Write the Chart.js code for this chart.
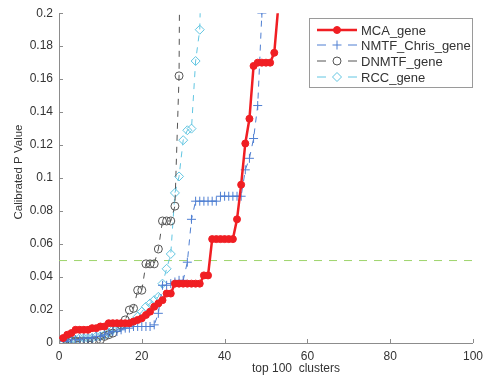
<!DOCTYPE html>
<html>
<head>
<meta charset="utf-8">
<script src="https://cdn.jsdelivr.net/npm/chart.js@4.4.1/dist/chart.umd.min.js"></script>
<style>
  html, body { margin: 0; padding: 0; background: #fff; }
  canvas { display: block; }
</style>
</head>
<body>
<canvas id="chart" width="489" height="386"></canvas>
<script>
// values, index i -> cluster rank i+1
const mcaGene = [
  0.003, 0.005, 0.006, 0.008, 0.008, 0.008, 0.008, 0.009, 0.009, 0.010,
  0.010, 0.012, 0.012, 0.012, 0.012, 0.012, 0.012, 0.013, 0.014, 0.015,
  0.017, 0.019, 0.022, 0.024, 0.026, 0.030, 0.030, 0.036, 0.036, 0.036,
  0.036, 0.036, 0.036, 0.036, 0.041, 0.041, 0.063, 0.063, 0.063, 0.063,
  0.063, 0.063, 0.075, 0.096, 0.121, 0.136, 0.168, 0.170, 0.170, 0.170,
  0.170, 0.176, 0.205
];
const nmtfChrisGene = [
  0.001, 0.001, 0.002, 0.002, 0.002, 0.003, 0.003, 0.003, 0.004, 0.004,
  0.005, 0.006, 0.007, 0.007, 0.008, 0.009, 0.009, 0.010, 0.010, 0.010,
  0.010, 0.010, 0.011, 0.018, 0.035, 0.035, 0.036, 0.037, 0.038, 0.038,
  0.049, 0.075, 0.086, 0.086, 0.086, 0.086, 0.086, 0.086, 0.089, 0.089,
  0.089, 0.089, 0.089, 0.089, 0.105, 0.112, 0.124, 0.144, 0.200
];
const dnmtfGene = [
  0.000, 0.000, 0.001, 0.001, 0.001, 0.001, 0.001, 0.001, 0.001, 0.002,
  0.004, 0.005, 0.006, 0.009, 0.011, 0.014, 0.020, 0.021, 0.032, 0.032,
  0.048, 0.048, 0.048, 0.057, 0.074, 0.074, 0.074, 0.083, 0.162, 0.600
];
const rccGene = [
  0.001, 0.001, 0.002, 0.002, 0.003, 0.003, 0.003, 0.003, 0.004, 0.004,
  0.005, 0.006, 0.008, 0.009, 0.010, 0.011, 0.012, 0.013, 0.016, 0.019,
  0.022, 0.024, 0.026, 0.028, 0.036, 0.045, 0.054, 0.091, 0.101, 0.123,
  0.129, 0.130, 0.171, 0.190, 0.300
];
const threshold = 0.05;
const xRange = [0, 100];
const yRange = [0, 0.2];

const RED = '#f01e23';
const BLUE = '#4f7fd2';
const GRAY = '#555555';
const CYAN = '#62c6e2';
const GREEN = '#9ed46c';
const FONT = '"Liberation Sans", Arial, sans-serif';

const toPoints = arr => arr.map((v, i) => ({ x: i + 1, y: v }));

const series = [
  { label: 'MCA_gene', values: mcaGene, color: RED, dash: [], width: 2.5, style: 'circle', radius: 3.5, fill: RED },
  { label: 'NMTF_Chris_gene', values: nmtfChrisGene, color: BLUE, dash: [6, 6], width: 1, style: 'cross', radius: 4.5, fill: 'rgba(0,0,0,0)' },
  { label: 'DNMTF_gene', values: dnmtfGene, color: GRAY, dash: [6, 6], width: 1, style: 'circle', radius: 4, fill: 'rgba(0,0,0,0)' },
  { label: 'RCC_gene', values: rccGene, color: CYAN, dash: [6, 6], width: 1, style: 'rectRot', radius: 4.5, fill: 'rgba(0,0,0,0)' }
];

const datasets = series.map((s, i) => ({
  label: s.label,
  data: toPoints(s.values),
  borderColor: s.color,
  borderWidth: s.width,
  borderDash: s.dash,
  pointStyle: s.style,
  pointRadius: s.radius,
  pointBorderColor: s.color,
  pointBackgroundColor: s.fill,
  pointBorderWidth: 1,
  tension: 0,
  order: i
}));

datasets.push({
  label: 'threshold',
  data: [{ x: xRange[0], y: threshold }, { x: xRange[1], y: threshold }],
  borderColor: GREEN,
  borderWidth: 1,
  borderDash: [8, 7],
  pointRadius: 0,
  order: 10
});

function drawMarker(ctx, style, x, y, r, color, fill) {
  ctx.save();
  ctx.setLineDash([]);
  ctx.strokeStyle = color;
  ctx.fillStyle = fill;
  ctx.lineWidth = 1;
  ctx.beginPath();
  if (style === 'circle') {
    ctx.arc(x, y, r, 0, Math.PI * 2);
    ctx.fill();
    ctx.stroke();
  } else if (style === 'cross') {
    ctx.moveTo(x - r, y); ctx.lineTo(x + r, y);
    ctx.moveTo(x, y - r); ctx.lineTo(x, y + r);
    ctx.stroke();
  } else {
    ctx.moveTo(x, y - r); ctx.lineTo(x + r, y); ctx.lineTo(x, y + r); ctx.lineTo(x - r, y);
    ctx.closePath();
    ctx.stroke();
  }
  ctx.restore();
}

const extras = {
  id: 'extras',
  beforeDraw: (chart) => {
    const { ctx, width, height } = chart;
    ctx.save();
    ctx.fillStyle = '#fff';
    ctx.fillRect(0, 0, width, height);
    ctx.restore();
  },
  afterDraw: (chart) => {
    const { ctx, chartArea, scales } = chart;
    ctx.save();

    // inward tick marks
    ctx.strokeStyle = '#8c8c8c';
    ctx.lineWidth = 1;
    ctx.beginPath();
    scales.y.ticks.forEach(t => {
      const py = Math.round(scales.y.getPixelForValue(t.value)) + 0.5;
      ctx.moveTo(chartArea.left, py);
      ctx.lineTo(chartArea.left + 4, py);
    });
    scales.x.ticks.forEach(t => {
      const px = Math.round(scales.x.getPixelForValue(t.value)) + 0.5;
      ctx.moveTo(px, chartArea.bottom);
      ctx.lineTo(px, chartArea.bottom - 4);
    });
    ctx.stroke();

    // axis titles
    ctx.fillStyle = '#333';
    ctx.font = '12px ' + FONT;
    ctx.textAlign = 'center';
    ctx.textBaseline = 'middle';
    ctx.fillText('top 100  clusters', 296, 369);
    ctx.save();
    ctx.translate(19, 172);
    ctx.rotate(-Math.PI / 2);
    ctx.font = '11.5px ' + FONT;
    ctx.fillText('Calibrated P Value', 0, 0);
    ctx.restore();

    // legend box
    const bx = 309.5, by = 18.5, bw = 163, bh = 69;
    ctx.fillStyle = '#fff';
    ctx.fillRect(bx, by, bw, bh);
    ctx.strokeStyle = '#9a9a9a';
    ctx.strokeRect(bx, by, bw, bh);
    const rows = [30, 45, 61, 77];
    series.forEach((s, i) => {
      const y = rows[i];
      ctx.strokeStyle = s.color;
      ctx.lineWidth = s.width;
      ctx.beginPath();
      if (s.dash.length) {
        ctx.moveTo(317, y); ctx.lineTo(326, y);
        ctx.moveTo(348, y); ctx.lineTo(357, y);
      } else {
        ctx.moveTo(317, y); ctx.lineTo(357, y);
      }
      ctx.stroke();
      drawMarker(ctx, s.style, 337, y, s.radius, s.color, s.fill);
      ctx.fillStyle = '#333';
      ctx.font = '13px ' + FONT;
      ctx.textAlign = 'left';
      ctx.textBaseline = 'middle';
      ctx.fillText(s.label, 361, y + 1);
    });
    ctx.restore();
  }
};

const tickFont = { family: FONT, size: 12 };

new Chart(document.getElementById('chart'), {
  type: 'line',
  data: { datasets },
  options: {
    responsive: false,
    animation: false,
    devicePixelRatio: 1,
    layout: { padding: { left: 0, right: 12, top: 13, bottom: 0 } },
    plugins: { legend: { display: false }, tooltip: { enabled: false } },
    scales: {
      x: {
        type: 'linear',
        min: xRange[0], max: xRange[1],
        grid: { display: false, drawTicks: false },
        border: { color: '#8c8c8c' },
        ticks: { stepSize: 20, color: '#333', font: tickFont, padding: 6, maxRotation: 0 },
        afterFit: s => { s.height = 43; }
      },
      y: {
        type: 'linear',
        min: yRange[0], max: yRange[1],
        grid: { display: false, drawTicks: false },
        border: { color: '#8c8c8c' },
        ticks: { stepSize: 0.02, color: '#333', font: tickFont, padding: 6,
                 callback: v => String(+v.toFixed(2)) },
        afterFit: s => { s.width = 59; }
      }
    }
  },
  plugins: [extras]
});
</script>
</body>
</html>
